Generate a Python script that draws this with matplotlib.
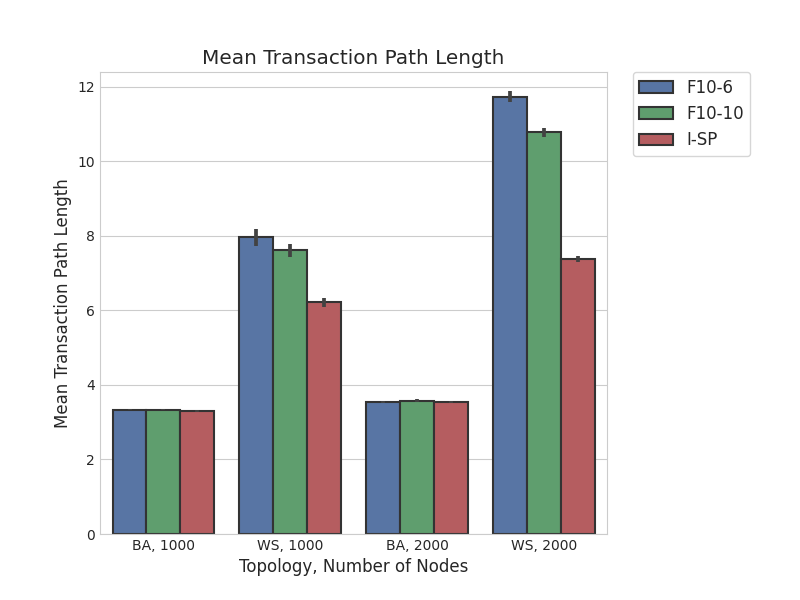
import matplotlib
matplotlib.use("Agg")
import matplotlib.pyplot as plt
import numpy as np
import seaborn as sns

categories = ["BA, 1000", "WS, 1000", "BA, 2000", "WS, 2000"]
series = ["F10-6", "F10-10", "I-SP"]
values = {
    "F10-6": [3.34, 7.96, 3.55, 11.74],
    "F10-10": [3.34, 7.61, 3.58, 10.78],
    "I-SP": [3.31, 6.22, 3.55, 7.38],
}
errors = {
    "F10-6": [0.02, 0.22, 0.03, 0.14],
    "F10-10": [0.02, 0.18, 0.03, 0.13],
    "I-SP": [0.03, 0.12, 0.03, 0.08],
}
colors = ["#5875A4", "#5F9E6E", "#B55D60"]

sns.set_style("whitegrid")
plt.rcParams['font.family'] = ['DejaVu Sans']

fig = plt.figure(figsize=(8, 6), dpi=100)
ax = fig.add_axes([0.125, 0.11, 0.634, 0.77])

x = np.arange(len(categories))
n = len(series)
w = 0.8 / n
for i, s in enumerate(series):
    pos = x - 0.4 + w / 2 + i * w
    ax.bar(pos, values[s], width=w, color=colors[i], edgecolor=".2",
           linewidth=1.5, label=s, zorder=2)
    ax.errorbar(pos, values[s], yerr=errors[s], fmt="none", ecolor=".26",
                elinewidth=2.7, capsize=0, zorder=3)

ax.set_xlim(-0.5, 3.5)
ax.set_ylim(0, 12.4)
ax.set_xticks(x)
ax.set_xticklabels(categories)
ax.xaxis.grid(False)
ax.set_axisbelow(True)
ax.tick_params(labelsize=10, length=0, pad=3.5)
ax.set_xlabel("Topology, Number of Nodes", fontsize=12)
ax.set_ylabel("Mean Transaction Path Length", fontsize=12)
ax.set_title("Mean Transaction Path Length", fontsize=14.4)
ax.legend(loc="upper left", bbox_to_anchor=(1.05, 1), borderaxespad=0,
          fontsize=12, frameon=True)

fig.savefig("out.png", dpi=100)
